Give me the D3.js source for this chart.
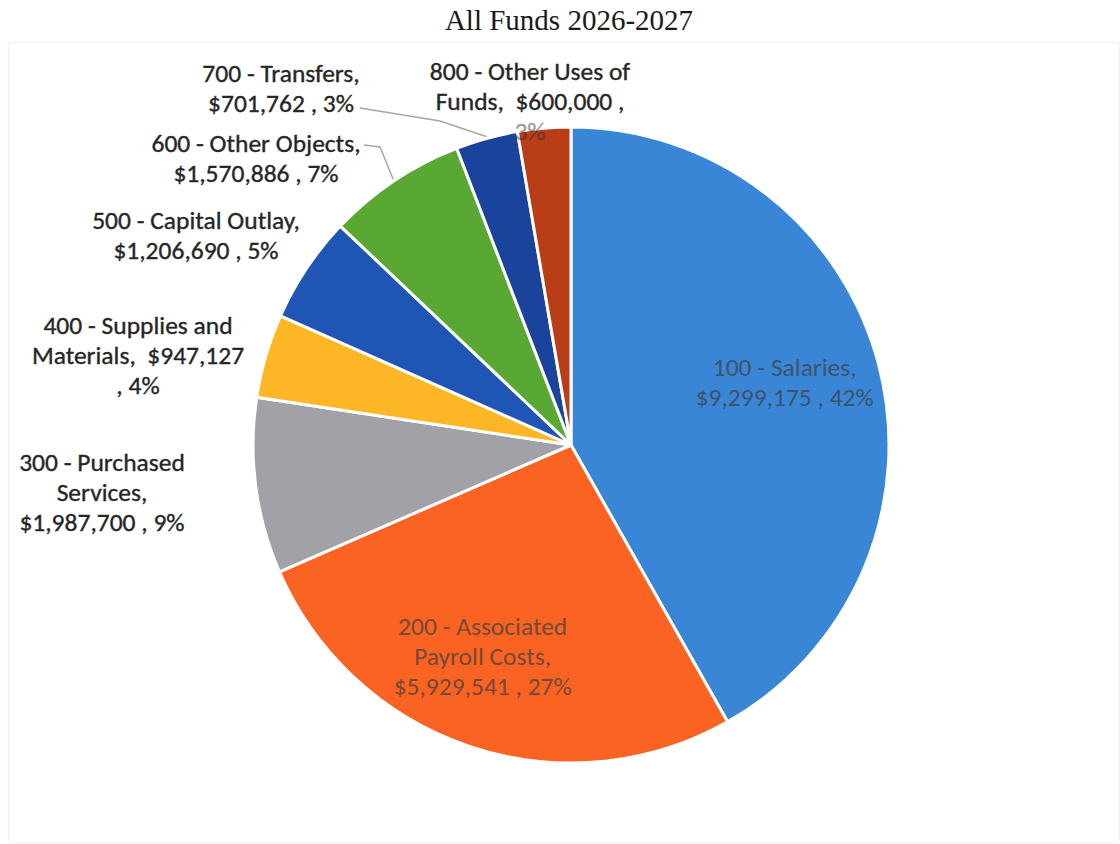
<!DOCTYPE html>
<html>
<head>
<meta charset="utf-8">
<script src="https://cdn.jsdelivr.net/npm/d3@7"></script>
<style>
  html, body { margin: 0; padding: 0; background: #ffffff; }
  svg { display: block; }
  text { white-space: pre; }
</style>
</head>
<body>
<svg id="chart" width="1120" height="844"></svg>
<script>
// ---- data ----
const chartTitle = "All Funds 2026-2027";
const categories = [
  "100 - Salaries",
  "200 - Associated Payroll Costs",
  "300 - Purchased Services",
  "400 - Supplies and Materials",
  "500 - Capital Outlay",
  "600 - Other Objects",
  "700 - Transfers",
  "800 - Other Uses of Funds"
];
const amounts = [9299175, 5929541, 1987700, 947127, 1206690, 1570886, 701762, 600000];
const sliceColors = ["#3a86d6", "#fb6322", "#a3a1a8", "#fdb726", "#1f55b5", "#5aa834", "#1a439c", "#b93e18"];

// ---- layout (text wrapping and placement) ----
const lineTokenCounts = [[3,3],[3,2,3],[3,1,3],[4,2,2],[4,3],[4,3],[3,3],[5,3,1]];
const wideGapBeforeAmount = [3, 7];
const labelPlacement = [
  {inside: true, angleShift: -1.5, rf: 0.70},
  {inside: true, angleShift: 4.2, rf: 0.72},
  {x: 102, y: 492},
  {x: 138, y: 355},
  {x: 196, y: 235},
  {x: 256, y: 158},
  {x: 281, y: 88},
  {x: 530, y: 101}
];
const leaderSlices = [5, 6];

const W = 1120, H = 844;
const cx = 571, cy = 445, R = 318;
const lineH = 30;

const svg = d3.select("#chart");

// faint frame
svg.append("rect")
  .attr("x", 8.5).attr("y", 42.5).attr("width", W - 9).attr("height", H - 44)
  .attr("fill", "none").attr("stroke", "#f2f2f2").attr("stroke-width", 1.5);

svg.append("text")
  .attr("x", 569).attr("y", 30)
  .attr("text-anchor", "middle")
  .attr("font-family", "'Liberation Serif', 'Times New Roman', serif")
  .attr("font-size", 29)
  .attr("fill", "#1a1a1a")
  .text(chartTitle);

const total = d3.sum(amounts);
const fmtAmt = d => "$" + d3.format(",")(d);
const data = categories.map((c, i) => ({
  name: c, value: amounts[i], color: sliceColors[i],
  pct: Math.round(amounts[i] / total * 100) + "%", i
}));

const pie = d3.pie().value(d => d.value).sort(null);
const arcs = pie(data);
const arc = d3.arc().innerRadius(0).outerRadius(R);

function labelLines(d) {
  const gap = wideGapBeforeAmount.includes(d.i) ? "  " : " ";
  const full = `${d.name},${gap}${fmtAmt(d.value)} , ${d.pct}`;
  const tokens = full.split(/(?<=\S) (?=\S| )/);
  const lines = [];
  let k = 0;
  lineTokenCounts[d.i].forEach(n => {
    lines.push(tokens.slice(k, k + n).join(" "));
    k += n;
  });
  return lines;
}

const fontFam = "Carlito, Calibri, Lato, 'Open Sans', sans-serif";

function drawLabel(a, g) {
  const d = a.data;
  const p = labelPlacement[d.i];
  const lines = labelLines(d);
  let x, y;
  if (p.inside) {
    const mid = (a.startAngle + a.endAngle) / 2 + p.angleShift * Math.PI / 180;
    x = cx + Math.sin(mid) * R * p.rf;
    y = cy - Math.cos(mid) * R * p.rf;
  } else { x = p.x; y = p.y; }
  const col = p.inside ? "#404040" : "#262626";
  const t = g.append("text")
    .attr("text-anchor", "middle")
    .attr("font-family", fontFam)
    .attr("font-size", 25.5)
    .attr("fill", col)
    .attr("stroke", col)
    .attr("stroke-width", p.inside ? 0 : 0.35)
    .attr("opacity", p.inside ? 0.72 : 1);
  lines.forEach((ln, j) => {
    const yy = y + (j - (lines.length - 1) / 2) * lineH;
    const overPie = !p.inside && Math.hypot(x - cx, yy + 6 - cy) < R;
    t.append("tspan")
      .attr("x", x)
      .attr("y", yy)
      .attr("dominant-baseline", "central")
      .attr("opacity", overPie ? 0.45 : 1)
      .text(ln);
  });
}

// slices
svg.append("g").attr("transform", `translate(${cx},${cy})`)
  .selectAll("path").data(arcs).join("path")
  .attr("d", arc)
  .attr("fill", d => d.data.color)
  .attr("stroke", "#ffffff")
  .attr("stroke-width", 3)
  .attr("stroke-linejoin", "round");

// leader lines
const leaderG = svg.append("g");
leaderSlices.forEach(i => {
  const a = arcs[i];
  const mid = (a.startAngle + a.endAngle) / 2;
  const ex = cx + Math.sin(mid) * (R + 2), ey = cy - Math.cos(mid) * (R + 2);
  let pts;
  if (i === 5) pts = [[364, 145], [380, 147], [ex, ey]];
  else pts = [[360, 108], [440, 121], [ex, ey]];
  leaderG.append("path")
    .attr("d", d3.line()(pts))
    .attr("fill", "none")
    .attr("stroke", "#a6a6a6")
    .attr("stroke-width", 1.5);
});

const lblG = svg.append("g");
arcs.forEach(a => drawLabel(a, lblG));
</script>
</body>
</html>
